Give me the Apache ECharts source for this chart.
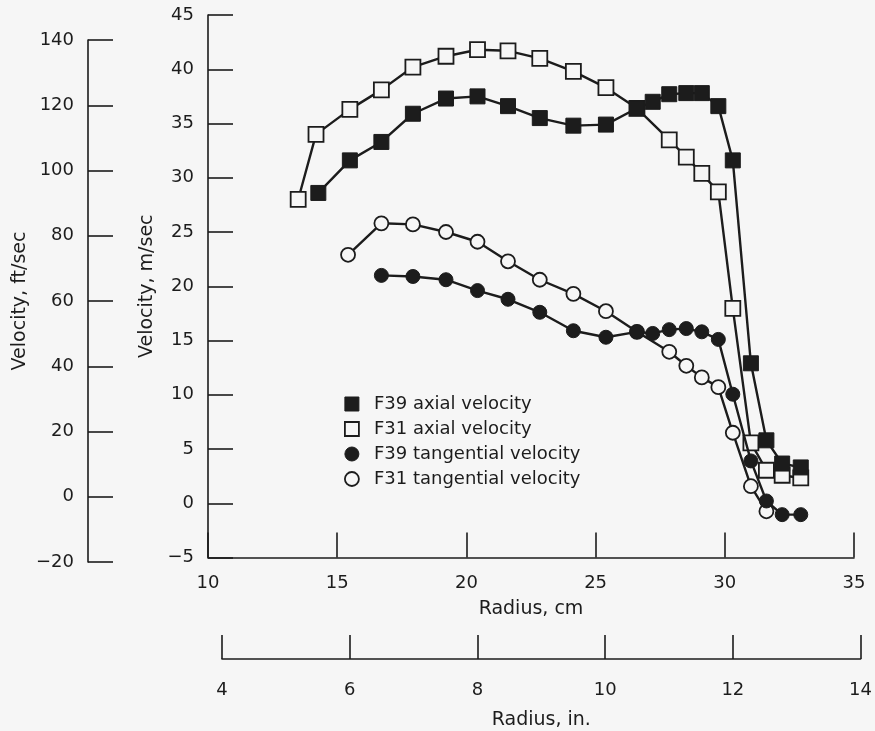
<!DOCTYPE html>
<html>
<head>
<meta charset="utf-8">
<script src="https://cdn.jsdelivr.net/npm/echarts@6/dist/echarts.min.js"></script>
<style>
html,body{margin:0;padding:0;background:#f6f6f6;}
#chart{width:875px;height:731px;}
</style>
</head>
<body>
<div id="chart"></div>
<script>
// Radius (cm) and velocity (m/sec)
const f39AxialR = [14.27,15.49,16.71,17.93,19.21,20.43,21.61,22.84,24.14,25.40,26.60,27.21,27.85,28.51,29.11,29.75,30.31,31.01,31.61,32.22,32.94];
const f39AxialV = [28.6,31.6,33.3,35.9,37.3,37.5,36.6,35.5,34.8,34.9,36.4,37.0,37.7,37.8,37.8,36.6,31.6,12.9,5.8,3.66,3.3];

const f31AxialR = [13.49,14.18,15.49,16.71,17.93,19.21,20.43,21.61,22.84,24.14,25.40,26.60,27.85,28.51,29.11,29.75,30.31,31.01,31.61,32.22,32.94];
const f31AxialV = [28.0,34.0,36.3,38.1,40.2,41.2,41.8,41.7,41.0,39.8,38.3,36.4,33.5,31.9,30.4,28.7,17.96,5.56,3.04,2.58,2.33];

const f39TangR = [16.71,17.93,19.21,20.43,21.61,22.84,24.14,25.40,26.60,27.21,27.85,28.51,29.11,29.75,30.31,31.01,31.61,32.22,32.94];
const f39TangV = [21.0,20.9,20.6,19.6,18.8,17.6,15.9,15.3,15.8,15.65,16.0,16.1,15.8,15.1,10.05,3.9,0.21,-1.05,-1.05];

const f31TangR = [15.42,16.71,17.93,19.21,20.43,21.61,22.84,24.14,25.40,26.60,27.85,28.51,29.11,29.75,30.31,31.01,31.61];
const f31TangV = [22.9,25.8,25.7,25.0,24.1,22.3,20.6,19.3,17.7,15.8,13.96,12.67,11.6,10.7,6.5,1.57,-0.74];

const seriesNames = ['F39 axial velocity','F31 axial velocity','F39 tangential velocity','F31 tangential velocity'];

const INK = '#1c1c1c';
const BG = '#f6f6f6';
const FONT = 'DejaVu Sans';

function pairs(r, v){ return r.map((x,i)=>[x, v[i]]); }
function minusFmt(v){ return String(v).replace('-', '\u2212'); }

function axisBase(extra){
  return Object.assign({
    axisLine:{show:true, onZero:false, lineStyle:{color:INK, width:1.6}},
    axisTick:{show:true, inside:true, length:25, lineStyle:{color:INK, width:1.6}},
    axisLabel:{color:INK, fontSize:18, fontFamily:FONT, margin:14, formatter:minusFmt},
    splitLine:{show:false},
    nameTextStyle:{color:INK, fontSize:19, fontFamily:FONT}
  }, extra);
}

const chart = echarts.init(document.getElementById('chart'), null, {renderer:'canvas'});

const filled = {color:INK, borderColor:INK, borderWidth:1};
const open = {color:BG, borderColor:INK, borderWidth:1.8};

chart.setOption({
  backgroundColor: BG,
  animation:false,
  textStyle:{fontFamily:FONT, color:INK},
  grid:[
    {left:208, top:15, width:646, height:542.5},
    {left:88, top:40, width:10, height:522},
    {left:222, top:600, width:640, height:63.5}
  ],
  xAxis:[
    axisBase({gridIndex:0, type:'value', min:10, max:35, interval:5,
      name:'Radius, cm', nameLocation:'middle', nameGap:42,
      axisLabel:{color:INK, fontSize:18, fontFamily:FONT, margin:17, formatter:minusFmt}}),
    {gridIndex:1, type:'value', show:false, min:0, max:1},
    axisBase({gridIndex:2, type:'value', min:4, max:14, interval:2,
      name:'Radius, in.', nameLocation:'middle', nameGap:52,
      axisTick:{show:true, inside:true, length:24, lineStyle:{color:INK, width:1.6}},
      axisLabel:{color:INK, fontSize:18, fontFamily:FONT, margin:22, formatter:minusFmt}})
  ],
  yAxis:[
    axisBase({gridIndex:0, type:'value', min:-5, max:45, interval:5,
      name:'Velocity, m/sec', nameLocation:'middle', nameGap:51, nameRotate:90}),
    axisBase({gridIndex:1, type:'value', min:-20, max:140, interval:20,
      name:'Velocity, ft/sec', nameLocation:'middle', nameGap:58, nameRotate:90}),
    {gridIndex:2, type:'value', show:false, min:0, max:1}
  ],
  legend:{
    orient:'vertical', left:339, top:390,
    itemWidth:14, itemHeight:14, itemGap:7,
    textStyle:{color:INK, fontSize:18, fontFamily:FONT, padding:[0,0,0,10]},
    data:[
      {name:seriesNames[0], icon:'rect', itemStyle:filled},
      {name:seriesNames[1], icon:'rect', itemStyle:open},
      {name:seriesNames[2], icon:'circle', itemStyle:filled},
      {name:seriesNames[3], icon:'circle', itemStyle:open}
    ]
  },
  series:[
    {name:seriesNames[1], type:'line', xAxisIndex:0, yAxisIndex:0, data:pairs(f31AxialR,f31AxialV),
      symbol:'rect', symbolSize:15, lineStyle:{color:INK, width:2.4}, itemStyle:open, z:2},
    {name:seriesNames[0], type:'line', xAxisIndex:0, yAxisIndex:0, data:pairs(f39AxialR,f39AxialV),
      symbol:'rect', symbolSize:15, lineStyle:{color:INK, width:2.4}, itemStyle:filled, z:3},
    {name:seriesNames[3], type:'line', xAxisIndex:0, yAxisIndex:0, data:pairs(f31TangR,f31TangV),
      symbol:'circle', symbolSize:14, lineStyle:{color:INK, width:2.4}, itemStyle:open, z:4},
    {name:seriesNames[2], type:'line', xAxisIndex:0, yAxisIndex:0, data:pairs(f39TangR,f39TangV),
      symbol:'circle', symbolSize:14, lineStyle:{color:INK, width:2.4}, itemStyle:filled, z:5}
  ]
});
</script>
</body>
</html>
